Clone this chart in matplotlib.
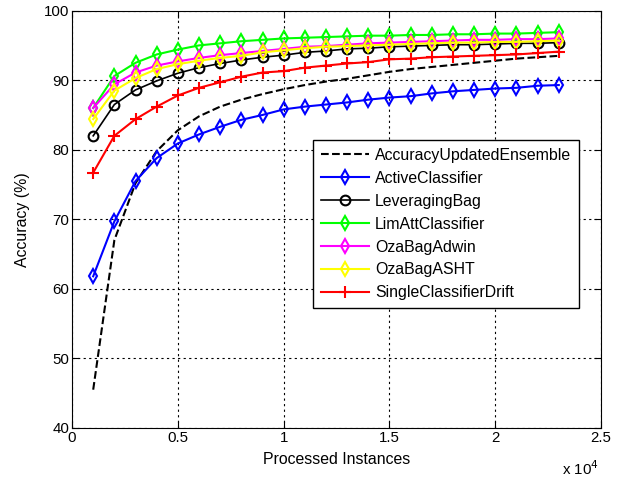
import numpy as np
import matplotlib.pyplot as plt
from matplotlib.ticker import FuncFormatter, MultipleLocator

plt.rcParams['font.family'] = ['Liberation Sans', 'DejaVu Sans']
plt.rcParams['font.size'] = 10.5

# processed instances (x axis)
instances = np.arange(1000, 24000, 1000)

# accuracy (%) per classifier
acc_aue = [45.5, 67.0, 75.2, 79.8, 82.8, 84.8, 86.2, 87.2, 88.0, 88.7, 89.3, 89.8,
           90.2, 90.7, 91.2, 91.6, 91.9, 92.2, 92.5, 92.8, 93.1, 93.3, 93.5]
acc_active = [61.8, 69.7, 75.5, 78.8, 80.9, 82.2, 83.3, 84.3, 85.0, 85.8, 86.2, 86.5,
              86.8, 87.2, 87.5, 87.7, 88.1, 88.4, 88.6, 88.8, 88.9, 89.2, 89.3]
acc_leveraging = [82.0, 86.5, 88.6, 89.9, 91.0, 91.8, 92.4, 92.9, 93.3, 93.6, 94.0, 94.2,
                  94.5, 94.6, 94.8, 94.9, 95.0, 95.1, 95.1, 95.2, 95.3, 95.3, 95.4]
acc_limatt = [86.0, 90.6, 92.5, 93.7, 94.4, 95.0, 95.3, 95.6, 95.8, 96.0, 96.1, 96.2,
              96.3, 96.4, 96.4, 96.5, 96.5, 96.6, 96.6, 96.7, 96.7, 96.8, 96.9]
acc_adwin = [86.0, 89.4, 91.1, 92.1, 92.7, 93.2, 93.6, 93.9, 94.2, 94.5, 94.8, 94.9,
             95.1, 95.3, 95.4, 95.5, 95.6, 95.7, 95.8, 95.8, 95.9, 95.9, 96.0]
acc_asht = [84.4, 88.5, 90.3, 91.6, 92.3, 92.8, 93.2, 93.5, 94.0, 94.3, 94.6, 94.8,
            94.9, 95.0, 95.1, 95.2, 95.3, 95.4, 95.4, 95.5, 95.5, 95.6, 95.7]
acc_single = [76.7, 82.0, 84.4, 86.2, 87.8, 88.9, 89.7, 90.5, 91.1, 91.3, 91.8, 92.1,
              92.4, 92.6, 93.0, 93.1, 93.3, 93.4, 93.5, 93.6, 93.7, 93.9, 94.1]

fig = plt.figure(figsize=(6.21, 4.83), dpi=100)
ax = fig.add_axes([0.116, 0.114, 0.852, 0.864])

ax.plot(instances, acc_aue, '--', color='black', lw=1.5, label='AccuracyUpdatedEnsemble')
ax.plot(instances, acc_active, '-d', color='blue', lw=1.5, ms=7, mfc='none', mew=1.5,
        label='ActiveClassifier')
ax.plot(instances, acc_leveraging, '-o', color='black', lw=1.2, ms=7, mfc='none', mew=1.5,
        label='LeveragingBag')
ax.plot(instances, acc_limatt, '-d', color='#00ff00', lw=1.5, ms=7, mfc='none', mew=1.5,
        label='LimAttClassifier')
ax.plot(instances, acc_adwin, '-d', color='magenta', lw=1.5, ms=7, mfc='none', mew=1.5,
        label='OzaBagAdwin')
ax.plot(instances, acc_asht, '-d', color='yellow', lw=1.5, ms=7, mfc='none', mew=1.5,
        label='OzaBagASHT')
ax.plot(instances, acc_single, '-+', color='red', lw=1.5, ms=9, mew=1.5,
        label='SingleClassifierDrift')

ax.set_xlim(0, 25000)
ax.set_ylim(40, 100)
ax.xaxis.set_major_locator(MultipleLocator(5000))
ax.yaxis.set_major_locator(MultipleLocator(10))
ax.xaxis.set_major_formatter(FuncFormatter(lambda v, p: '%g' % (v / 1e4)))
ax.tick_params(direction='in', top=True, right=True, length=5, width=0.8, pad=2,
               labelsize=10.8)
ax.grid(True, color='black', linestyle=(0, (2, 3)), linewidth=0.8)
for s in ax.spines.values():
    s.set_linewidth(0.8)

ax.set_xlabel('Processed Instances', labelpad=5, fontsize=11.4)
ax.set_ylabel('Accuracy (%)', labelpad=10, fontsize=11.4)
ax.text(0.995, -0.075, 'x 10$^{4}$', transform=ax.transAxes, ha='right', va='top',
        fontsize=10.8)

leg = ax.legend(loc='upper left', bbox_to_anchor=(0.4556, 0.69), borderaxespad=0,
                frameon=True, fancybox=False, edgecolor='black', framealpha=1,
                handlelength=3.0, borderpad=0.5, labelspacing=0.5, handletextpad=0.4,
                fontsize=11.4)
leg.get_frame().set_linewidth(1.0)

fig.savefig('out.png', dpi=100)
